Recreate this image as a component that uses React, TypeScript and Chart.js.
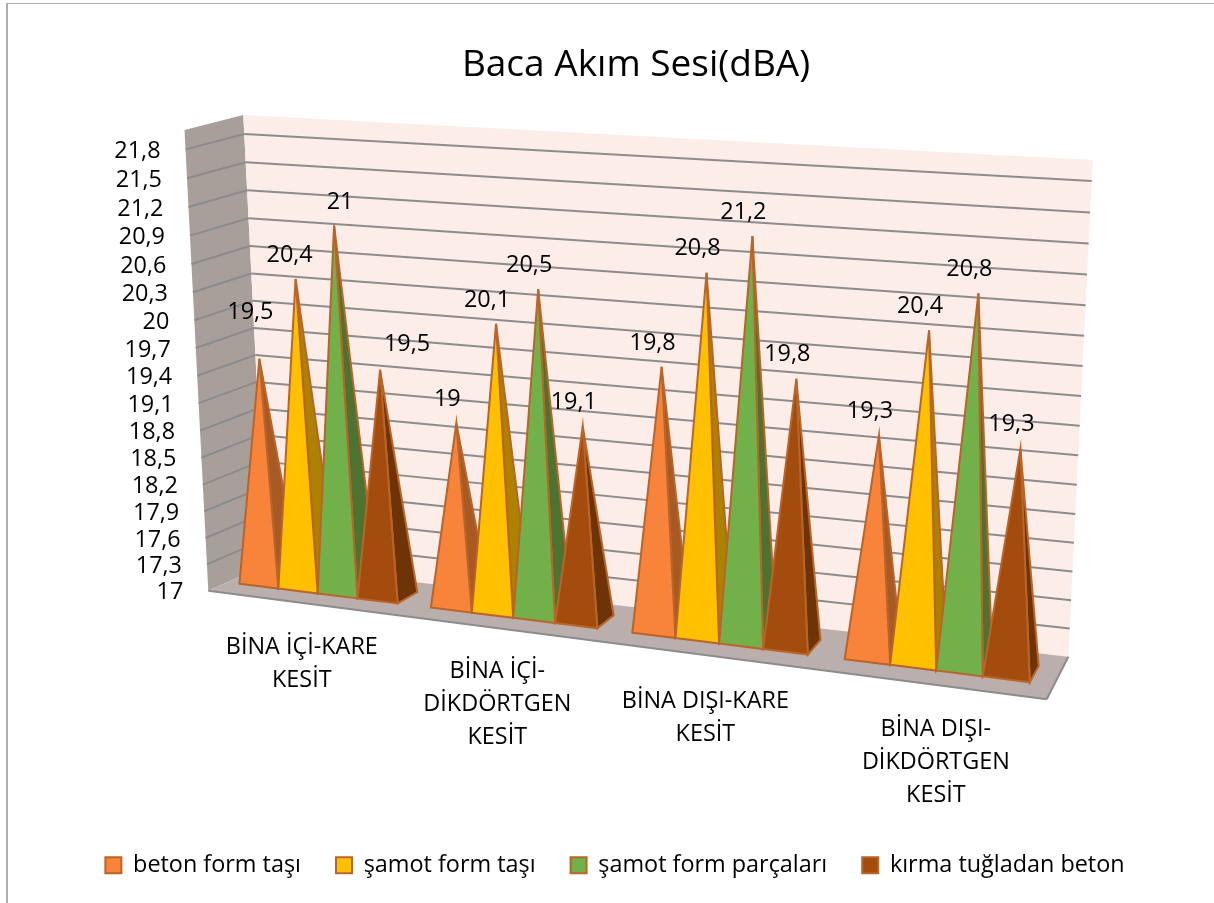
import React, { useEffect, useRef } from "react";
import { Chart, registerables } from "chart.js";

Chart.register(...registerables);

const categories: string[][] = [
  ["BİNA İÇİ-KARE", "KESİT"],
  ["BİNA İÇİ-", "DİKDÖRTGEN", "KESİT"],
  ["BİNA DIŞI-KARE", "KESİT"],
  ["BİNA DIŞI-", "DİKDÖRTGEN", "KESİT"],
];
const betonFormTasi = [19.5, 19, 19.8, 19.3];
const samotFormTasi = [20.4, 20.1, 20.8, 20.4];
const samotFormParcalari = [21, 20.5, 21.2, 20.8];
const kirmaTugladanBeton = [19.5, 19.1, 19.8, 19.3];
const seriesNames = ["beton form taşı", "şamot form taşı", "şamot form parçaları", "kırma tuğladan beton"];
const yTicks = [17, 17.3, 17.6, 17.9, 18.2, 18.5, 18.8, 19.1, 19.4, 19.7, 20, 20.3, 20.6, 20.9, 21.2, 21.5, 21.8];

const FONT = "'Open Sans', sans-serif";
const TEXT_SIZE = 23.4;
const frontColors = ["#F8833A", "#FFC000", "#72B04A", "#A34C0E"];
const sideColors = ["#A85A25", "#AD8200", "#4C7330", "#6E3307"];
const edgeColor = "#B9652A";

type Pt = [number, number];
// corners of the 3D box on screen: bottom-left, bottom-right, top-right, top-left
const FRONT: Pt[] = [[208.3, 590.7], [1046.7, 699.3], [1071.5, 191], [184.5, 130]];
const BACK: Pt[] = [[266, 565], [1068.3, 656.7], [1092.7, 160], [243.3, 115]];
const DEPTH_NEAR = 0.33;
const DEPTH_FAR = 0.72;
const U_SHIFT = -0.005;
// label shift from apex; [series]-[category]
const DEFAULT_SHIFT: Pt = [-9, -24];
const LABEL_SHIFTS: Record<string, Pt> = {
  "0-0": [-9, -46],
  "1-0": [-6, -24],
  "2-0": [6, -23],
  "3-0": [27, -25],
};
// category label anchors relative to the front floor edge
const CATEGORY_SHIFTS: Pt[] = [[-2, 44], [-5, 43], [-6, 45], [4, 45]];

function quadMap(q: Pt[]) {
  const [[x0, y0], [x1, y1], [x2, y2], [x3, y3]] = q;
  const dx1 = x1 - x2, dx2 = x3 - x2, sx = x0 - x1 + x2 - x3;
  const dy1 = y1 - y2, dy2 = y3 - y2, sy = y0 - y1 + y2 - y3;
  const den = dx1 * dy2 - dx2 * dy1;
  const g = (sx * dy2 - dx2 * sy) / den;
  const h = (dx1 * sy - sx * dy1) / den;
  const a = x1 - x0 + g * x1, b = x3 - x0 + h * x3;
  const d = y1 - y0 + g * y1, e = y3 - y0 + h * y3;
  return (u: number, v: number): Pt => {
    const w = g * u + h * v + 1;
    return [(a * u + b * v + x0) / w, (d * u + e * v + y0) / w];
  };
}
const frontMap = quadMap(FRONT);
const backMap = quadMap(BACK);
function project(u: number, v: number, depth: number): Pt {
  const f = frontMap(u, v), b = backMap(u, v);
  return [f[0] + (b[0] - f[0]) * depth, f[1] + (b[1] - f[1]) * depth];
}
const fmt = (n: number) => String(n).replace(".", ",");

function poly(ctx: CanvasRenderingContext2D, pts: Pt[], fill: string, stroke?: string, lw = 2) {
  ctx.beginPath();
  pts.forEach((p, i) => (i ? ctx.lineTo(p[0], p[1]) : ctx.moveTo(p[0], p[1])));
  ctx.closePath();
  ctx.fillStyle = fill;
  ctx.fill();
  if (stroke) {
    ctx.strokeStyle = stroke;
    ctx.lineWidth = lw;
    ctx.lineJoin = "miter";
    ctx.stroke();
  }
}
function seg(ctx: CanvasRenderingContext2D, a: Pt, b: Pt, color: string, lw: number) {
  ctx.beginPath();
  ctx.moveTo(a[0], a[1]);
  ctx.lineTo(b[0], b[1]);
  ctx.strokeStyle = color;
  ctx.lineWidth = lw;
  ctx.stroke();
}

const pyramid3d = {
  id: "pyramid3d",
  afterLayout(chart: any) {
    // the reference's title sits to the right of the legend's centre
    chart.titleBlock.left += 21;
    chart.titleBlock.right += 21;
  },
  beforeDatasetsDraw(chart: any) {
    const { ctx, chartArea: ca, scales } = chart;
    const yS = scales.y;
    const toU = (x: number) => (x - ca.left) / (ca.right - ca.left);
    const toV = (y: number) => (ca.bottom - y) / (ca.bottom - ca.top);
    ctx.save();
    // walls and floor
    poly(ctx, [project(0, 0, 0), project(0, 1, 0), project(0, 1, 1), project(0, 0, 1)], "#A89F9B");
    poly(ctx, [project(0, 0, 1), project(1, 0, 1), project(1, 1, 1), project(0, 1, 1)], "#FCEDE8");
    poly(ctx, [project(0, 0, 0), project(1, 0, 0), project(1, 0, 1), project(0, 0, 1)], "#BBAFAD");
    seg(ctx, project(0, 0, 0), project(1, 0, 0), "#8C8C8C", 2);
    seg(ctx, project(1, 0, 0), project(1, 0, 1), "#8C8C8C", 2);
    // gridlines and value-axis labels
    ctx.font = `${TEXT_SIZE}px ${FONT}`;
    ctx.textAlign = "right";
    ctx.textBaseline = "middle";
    yS.ticks.forEach((t: any) => {
      const v = toV(yS.getPixelForValue(t.value));
      if (v > 0) {
        seg(ctx, project(0, v, 0), project(0, v, 1), "#8C8C8C", 2);
        seg(ctx, project(0, v, 1), project(1, v, 1), "#8C8C8C", 2);
      }
      const p = project(0, v, 0);
      ctx.fillStyle = "#000";
      ctx.fillText(fmt(t.value), p[0] - 25, p[1] + 2);
    });
    // pyramids, left to right
    const metas = chart.getSortedVisibleDatasetMetas();
    const mid = (DEPTH_NEAR + DEPTH_FAR) / 2;
    metas.forEach((meta: any, si: number) => {
      meta.data.forEach((bar: any) => {
        const { x, y, width } = bar.getProps(["x", "y", "width"], true);
        const u0 = toU(x - width / 2) + U_SHIFT, u1 = toU(x + width / 2) + U_SHIFT, uc = toU(x) + U_SHIFT, v = toV(y);
        const apex = project(uc, v, mid);
        poly(ctx, [project(u1, 0, DEPTH_NEAR), project(u1, 0, DEPTH_FAR), apex], sideColors[si], edgeColor);
        poly(ctx, [project(u0, 0, DEPTH_NEAR), project(u1, 0, DEPTH_NEAR), apex], frontColors[si], edgeColor);
      });
    });
    // value labels
    ctx.textAlign = "center";
    ctx.fillStyle = "#000";
    metas.forEach((meta: any, si: number) => {
      const values = chart.data.datasets[meta.index].data;
      meta.data.forEach((bar: any, ci: number) => {
        const { x, y } = bar.getProps(["x", "y"], true);
        const apex = project(toU(x) + U_SHIFT, toV(y), mid);
        const s = LABEL_SHIFTS[`${si}-${ci}`] || DEFAULT_SHIFT;
        ctx.fillText(fmt(values[ci]), apex[0] + s[0], apex[1] + s[1]);
      });
    });
    // category labels
    const xS = scales.x;
    categories.forEach((lines, ci) => {
      const p = project(toU(xS.getPixelForTick(ci)), 0, 0);
      const s = CATEGORY_SHIFTS[ci];
      lines.forEach((line, li) => {
        ctx.fillText(line, p[0] + s[0], p[1] + s[1] + li * 33);
      });
    });
    ctx.restore();
    return false;
  },
};

export default function App() {
  const ref = useRef<HTMLCanvasElement>(null);
  useEffect(() => {
    const all = [betonFormTasi, samotFormTasi, samotFormParcalari, kirmaTugladanBeton];
    const chart = new Chart(ref.current!, {
      type: "bar",
      data: {
        labels: categories,
        datasets: all.map((data, i) => ({
          label: seriesNames[i],
          data,
          backgroundColor: frontColors[i],
          borderColor: edgeColor,
          borderWidth: 2,
          categoryPercentage: 0.83,
          barPercentage: 1,
        })),
      },
      options: {
        responsive: false,
        animation: false,
        layout: { padding: { top: 43, left: 26, right: 10, bottom: 16 } },
        scales: {
          x: { display: false, grid: { display: false } },
          y: {
            display: false,
            min: 17,
            max: 22,
            afterBuildTicks: (s: any) => {
              s.ticks = yTicks.map((value) => ({ value }));
            },
          },
        },
        plugins: {
          tooltip: { enabled: false },
          title: {
            display: true,
            text: "Baca Akım Sesi(dBA)",
            color: "#000",
            font: { family: FONT, size: 37, weight: "normal" },
            padding: { top: 0, bottom: 0 },
          },
          legend: {
            display: true,
            position: "bottom",
            labels: {
              color: "#000",
              font: { family: FONT, size: TEXT_SIZE },
              boxWidth: 16,
              boxHeight: 16,
              padding: 35,
            },
          },
        },
      },
      plugins: [pyramid3d],
    } as any);
    return () => chart.destroy();
  }, []);
  return (
    <div style={{ position: "absolute", left: 0, top: 0, width: 1214, height: 903, background: "#fff", overflow: "hidden" }}>
      <canvas ref={ref} width={1214} height={903} style={{ display: "block" }} />
      <div style={{ position: "absolute", left: 6, top: 3, width: 1220, height: 910, borderLeft: "2px solid #ADADAD", borderTop: "1px solid #ADADAD" }} />
    </div>
  );
}
